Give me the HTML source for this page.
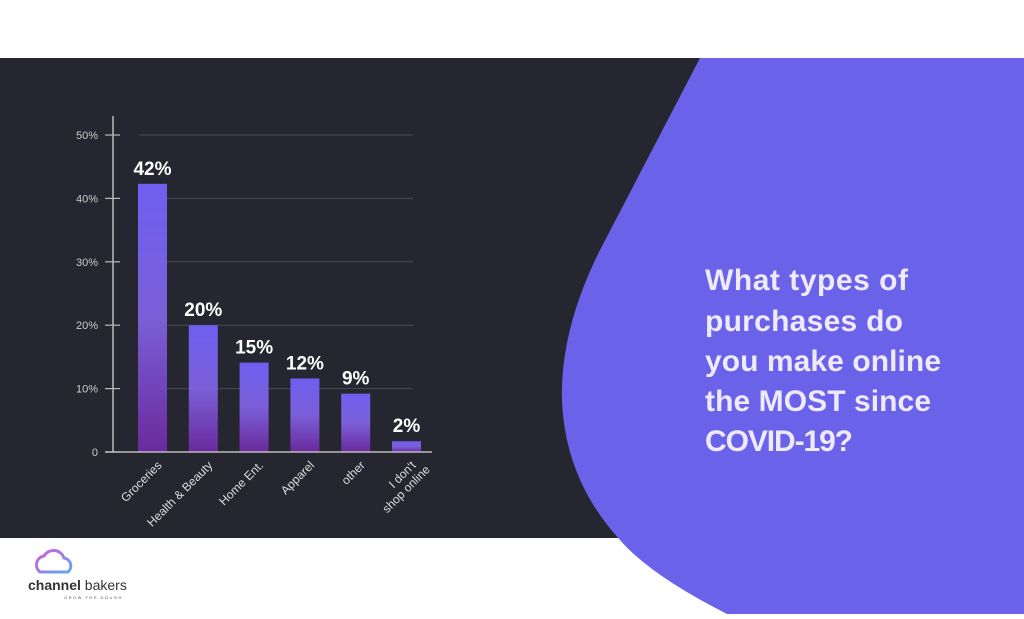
<!DOCTYPE html>
<html><head><meta charset="utf-8"><style>
body{margin:0;width:1024px;height:614px;overflow:hidden;background:#fff;font-family:"Liberation Sans",sans-serif}
</style></head><body>
<svg width="1024" height="614">
<defs>
<linearGradient id="bg" x1="0" y1="0" x2="0" y2="1"><stop offset="0" stop-color="#6f5ff0"/><stop offset="0.5" stop-color="#7a5fd8"/><stop offset="1" stop-color="#6a2a9c"/></linearGradient>
<linearGradient id="cl" x1="0" y1="0" x2="1" y2="1"><stop offset="0" stop-color="#d45bd8"/><stop offset="1" stop-color="#5fa8f0"/></linearGradient>
</defs>
<rect x="0" y="58" width="720" height="480" fill="#262630"/>
<path d="M700,58 L1024,58 L1024,614 L727,614 Q650,575 620,540 Q565,480 562,400 Q560,330 600,250 Z" fill="#6b62ea"/>
<g fill="#eeeafc" font-weight="bold" font-size="30">
<text x="705" y="290" textLength="203">What types of</text>
<text x="705" y="331" textLength="198">purchases do</text>
<text x="705" y="371" textLength="236">you make online</text>
<text x="705" y="411" textLength="226">the MOST since</text>
<text x="705" y="451" textLength="148">COVID-19?</text>
</g>
<g id="chart"></g>
<g>
<path d="M40,572 A9,9 0 0 1 44,556 A11,11 0 0 1 64,558 A8,8 0 0 1 68,572 Z" fill="none" stroke="url(#cl)" stroke-width="3"/>
<text x="28" y="590" font-size="14" fill="#333" font-weight="bold">channel <tspan font-weight="normal">bakers</tspan></text>
<text x="64" y="599" font-size="4" fill="#555" letter-spacing="1.5">GROW THE DOUGH</text>
</g>
</svg>
<script>
const categories=["Groceries","Health & Beauty","Home Ent.","Apparel","other","I don't|shop online"];
const values=[42.3,20,14.1,11.6,9.2,1.7];
const valueLabels=["42%","20%","15%","12%","9%","2%"];
const yTicks=[0,10,20,30,40,50];
const yTickLabels=["0","10%","20%","30%","40%","50%"];
const NS="http://www.w3.org/2000/svg",g=document.getElementById('chart');
const y0=452,ppu=6.34,x0=138,step=50.8,bw=29;
const Y=v=>y0-v*ppu,X=i=>x0+i*step;
function el(t,a,txt){const e=document.createElementNS(NS,t);for(const k in a)e.setAttribute(k,a[k]);if(txt!==undefined)e.textContent=txt;g.appendChild(e);return e;}
yTicks.forEach((t,i)=>{
 if(t>0){const l=el('line',{x1:139,x2:413,y1:Y(t),y2:Y(t),stroke:'#4a4a55','stroke-width':1});
 
 }
 const tk=el('line',{x1:105,x2:120,y1:Y(t),y2:Y(t),stroke:'#bbb','stroke-width':1.2});
 
 
 const tx=el('text',{x:98,y:Y(t)+4,'text-anchor':'end','font-size':11,fill:'#ccc'},yTickLabels[i]);
 
 
});
const ax=el('line',{x1:113,x2:113,y1:116,y2:y0,stroke:'#bbb','stroke-width':1.5});


values.forEach((v,i)=>{
 const r=el('rect',{x:X(i),y:Y(v),width:bw,height:v*ppu,fill:'url(#bg)'});
 
 
 const t=el('text',{x:X(i)+bw/2,y:Y(v)-9,'text-anchor':'middle','font-size':19,'font-weight':'bold',fill:'#fff'},valueLabels[i]);
 
 
 const parts=categories[i].split('|');
 const c=el('text',{transform:`translate(${X(i)+bw/2+10},${y0+14}) rotate(-45)`,'text-anchor':'end','font-size':12,fill:'#ddd'});
 
 
 parts.forEach((p,j)=>{const s=document.createElementNS(NS,'tspan');s.setAttribute('x',j*7);s.setAttribute('dy',j?13:0);s.textContent=p;c.appendChild(s);});
});
const bx=el('line',{x1:105,x2:432,y1:y0,y2:y0,stroke:'#bbb','stroke-width':1.5});


</script>
</body></html>
